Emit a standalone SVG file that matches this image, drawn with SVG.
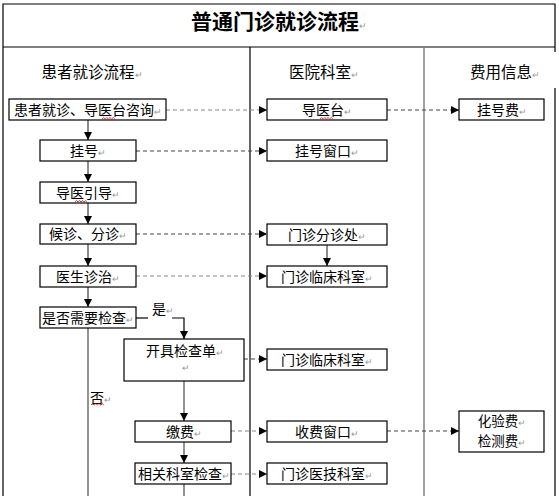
<svg xmlns="http://www.w3.org/2000/svg" width="559" height="496" viewBox="0 0 559 496">
<defs>
<marker id="ah" viewBox="0 0 8 8" markerWidth="8" markerHeight="8" refX="8" refY="4" orient="auto" markerUnits="userSpaceOnUse">
<path d="M0,0 L8,4 L0,8 z" fill="#000"/>
</marker>
</defs>
<style>
text{font-family:"Noto Sans CJK SC","Noto Sans",sans-serif;fill:#000}
.t{font-size:14px;text-anchor:middle}
.h{font-size:15.5px;text-anchor:middle}
.p{font-size:9px;fill:#999}
.box{fill:#fff;stroke:#000;stroke-width:1.2}
.frame{stroke:#000;stroke-width:1.2;fill:none}
.v{stroke:#666;stroke-width:1.5;fill:none;marker-end:url(#ah)}
.d{stroke:#444;stroke-width:1.2;stroke-dasharray:4,3;fill:none;marker-end:url(#ah)}
.dg{stroke:#888}
.sq{stroke:#e00;stroke-width:0.8;fill:none}
</style>
<rect width="559" height="496" fill="#fff"/>
<g id="frame">
<path class="frame" d="M3,496 V4 H555 V52 M555,88 V496 M3,47 H555 M250,47 V496"/>
<path d="M424,47 V496" stroke="#808080" stroke-width="1.5" fill="none"/>
</g>
<g id="title"><text x="279" y="29" style="font-size:21px;font-weight:bold;text-anchor:middle">普通门诊就诊流程<tspan class="p" font-weight="normal">↵</tspan></text></g>
<g id="headers">
<text class="h" x="92" y="78">患者就诊流程<tspan class="p">↵</tspan></text>
<text class="h" x="324" y="78">医院科室<tspan class="p">↵</tspan></text>
<text class="h" x="505" y="78">费用信息<tspan class="p">↵</tspan></text>
</g>
<g id="connectors">
<path class="v" d="M88,120 V140"/>
<path class="v" d="M88,161 V182"/>
<path class="v" d="M88,203 V224"/>
<path class="v" d="M88,244 V266"/>
<path class="v" d="M88,287 V307"/>
<path class="v" d="M327,245 V266"/>
<path d="M88,328 V496" stroke="#888" stroke-width="1.8" fill="none"/>
<path d="M136,318 H148" stroke="#000" stroke-width="1.2" fill="none"/>
<path d="M172,318 H184 V339" stroke="#000" stroke-width="1.2" fill="none" marker-end="url(#ah)"/>
<path d="M184,381 V421" stroke="#888" stroke-width="1.8" fill="none" marker-end="url(#ah)"/>
<path d="M184,442 V463" stroke="#888" stroke-width="1.8" fill="none" marker-end="url(#ah)"/>
<path d="M184,484 V496" stroke="#888" stroke-width="1.8" fill="none"/>
<path class="d dg" d="M166,110 H267"/>
<path class="d" d="M387,110 H459"/>
<path class="d" d="M136,151 H267"/>
<path class="d" d="M136,234 H267"/>
<path class="d dg" d="M136,276 H267"/>
<path class="d" d="M244,359 H267"/>
<path class="d dg" d="M231,431 H267"/>
<path class="d" d="M387,431 H459"/>
<path class="d dg" d="M231,474 H267"/>
</g>
<g id="n1"><rect class="box" x="9" y="99" width="157" height="21"/><text class="t" x="88" y="115">患者就诊、导医台咨询<tspan class="p">↵</tspan></text><path class="sq" d="M102,119 l1.6,-1.5 l1.6,1.5 l1.6,-1.5 l1.6,1.5 l1.6,-1.5 l1.6,1.5 l1.6,-1.5 l1.6,1.5"/></g>
<g id="n2"><rect class="box" x="40" y="140" width="96" height="21"/><text class="t" x="88" y="156">挂号<tspan class="p">↵</tspan></text></g>
<g id="n3"><rect class="box" x="40" y="182" width="96" height="21"/><text class="t" x="88" y="198">导医引导<tspan class="p">↵</tspan></text><path class="sq" d="M75,202 l1.5,-1.5 l1.5,1.5 l1.5,-1.5 l1.5,1.5 l1.5,-1.5 l1.5,1.5 l1.5,-1.5 l1.5,1.5"/></g>
<g id="n4"><rect class="box" x="40" y="224" width="96" height="20"/><text class="t" x="88" y="239">候诊、分诊<tspan class="p">↵</tspan></text></g>
<g id="n5"><rect class="box" x="40" y="266" width="96" height="21"/><text class="t" x="88" y="282">医生诊治<tspan class="p">↵</tspan></text></g>
<g id="n6"><rect class="box" x="40" y="307" width="96" height="21"/><text class="t" x="88" y="323">是否需要检查<tspan class="p">↵</tspan></text></g>
<g id="lbl-yes"><text x="152" y="314" style="font-size:14px">是<tspan class="p">↵</tspan></text></g>
<g id="lbl-no"><text x="90" y="403" style="font-size:14px">否<tspan class="p">↵</tspan></text><path class="sq" d="M91,405 l1.6,-1.5 l1.6,1.5 l1.6,-1.5 l1.6,1.5 l1.6,-1.5 l1.6,1.5 l1.6,-1.5 l1.6,1.5"/></g>
<g id="n7"><rect class="box" x="124" y="339" width="120" height="42"/><text class="t" x="185" y="356">开具检查单<tspan class="p">↵</tspan></text><text class="p" x="182" y="371">↵</text></g>
<g id="n8"><rect class="box" x="135" y="421" width="96" height="21"/><text class="t" x="184" y="437">缴费<tspan class="p">↵</tspan></text></g>
<g id="n9"><rect class="box" x="135" y="463" width="96" height="21"/><text class="t" x="184" y="479">相关科室检查<tspan class="p">↵</tspan></text></g>
<g id="r1"><rect class="box" x="267" y="99" width="120" height="21"/><text class="t" x="327" y="115">导医台<tspan class="p">↵</tspan></text><path class="sq" d="M320,119 l1.6,-1.5 l1.6,1.5 l1.6,-1.5 l1.6,1.5 l1.6,-1.5 l1.6,1.5 l1.6,-1.5 l1.6,1.5"/></g>
<g id="r2"><rect class="box" x="267" y="140" width="120" height="21"/><text class="t" x="327" y="156">挂号窗口<tspan class="p">↵</tspan></text></g>
<g id="r3"><rect class="box" x="267" y="224" width="120" height="21"/><text class="t" x="327" y="240">门诊分诊处<tspan class="p">↵</tspan></text></g>
<g id="r4"><rect class="box" x="267" y="266" width="120" height="21"/><text class="t" x="327" y="282">门诊临床科室<tspan class="p">↵</tspan></text></g>
<g id="r5"><rect class="box" x="267" y="349" width="120" height="21"/><text class="t" x="327" y="365">门诊临床科室<tspan class="p">↵</tspan></text></g>
<g id="r6"><rect class="box" x="267" y="421" width="120" height="21"/><text class="t" x="327" y="437">收费窗口<tspan class="p">↵</tspan></text></g>
<g id="r7"><rect class="box" x="267" y="463" width="120" height="21"/><text class="t" x="327" y="479">门诊医技科室<tspan class="p">↵</tspan></text></g>
<g id="f1"><rect class="box" x="459" y="99" width="85" height="21"/><text class="t" x="502" y="115">挂号费<tspan class="p">↵</tspan></text></g>
<g id="f2"><rect class="box" x="459" y="411" width="85" height="41"/><text class="t" x="502" y="426" style="font-size:13.5px">化验费<tspan class="p">↵</tspan></text><text class="t" x="502" y="446" style="font-size:13.5px">检测费<tspan class="p">↵</tspan></text></g>
</svg>
